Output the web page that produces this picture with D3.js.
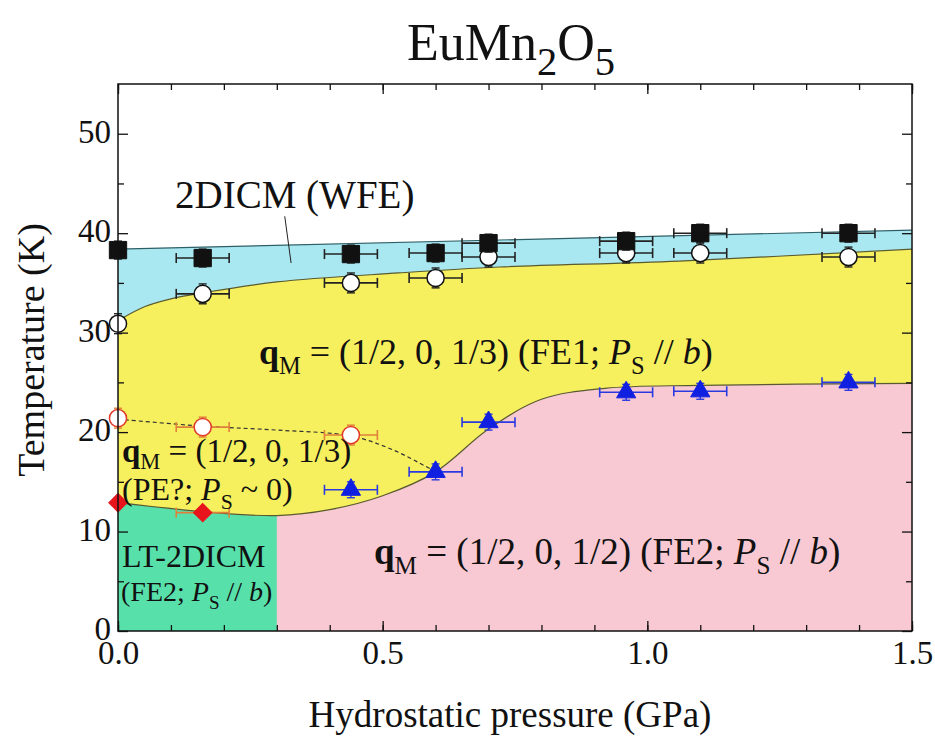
<!DOCTYPE html>
<html>
<head>
<meta charset="utf-8">
<script src="https://cdnjs.cloudflare.com/ajax/libs/d3/7.8.5/d3.min.js"></script>
<style>
  body { margin: 0; background: #fff; }
  svg text { font-family: "Liberation Serif", "Times New Roman", serif; fill: #111; }
</style>
</head>
<body>
<div id="chart"></div>
<script>
// measured points (pressure in GPa, temperature in K)
var tnP = [0, 0.16, 0.44, 0.60, 0.70, 0.96, 1.10, 1.38];
var tnT = [38.3, 37.5, 37.9, 38.0, 39.0, 39.2, 40.0, 40.0];
var tc1P = [0, 0.16, 0.44, 0.60, 0.70, 0.96, 1.10, 1.38];
var tc1T = [30.9, 33.9, 35.0, 35.5, 37.6, 38.0, 38.0, 37.6];
var peP = [0, 0.16, 0.44];
var peT = [21.4, 20.5, 19.7];
var ltP = [0, 0.16];
var ltT = [12.9, 11.9];
var fe2P = [0.44, 0.60, 0.70, 0.96, 1.10, 1.38];
var fe2T = [14.2, 16.0, 21.0, 24.0, 24.1, 25.0];
var pErr = 0.05;

// phase boundaries
var upperLineP = [0, 1.5];
var upperLineT = [38.4, 40.3];
var fe1LineP = [0, 0.05, 0.1, 0.16, 0.3, 0.53, 0.72, 1.06, 1.5];
var fe1LineT = [31.2, 32.6, 33.4, 34.0, 35.1, 36.0, 36.6, 37.2, 38.4];
var fe2LineP = [0, 0.16, 0.3, 0.4, 0.5, 0.6, 0.7, 0.8, 0.92, 1.1, 1.5];
var fe2LineT = [12.9, 12.0, 11.6, 12.2, 13.6, 16.0, 20.3, 23.3, 24.4, 24.7, 24.9];
var dashP = [0, 0.16, 0.3, 0.44, 0.52, 0.6];
var dashT = [21.3, 20.6, 20.2, 19.6, 18.2, 16.0];
var ltBorderP = 0.3;

var xMajor = [0, 0.5, 1.0, 1.5];
var yMajor = [0, 10, 20, 30, 40, 50];

function zip(ps, ts) { return ps.map(function(p, i) { return {p: p, t: ts[i]}; }); }

var W = 935, H = 736;
var margin = {top: 84, right: 23, bottom: 105, left: 118};
var width = W - margin.left - margin.right,
    height = H - margin.top - margin.bottom;

var svg = d3.select("#chart").append("svg")
    .attr("width", W).attr("height", H);
var g = svg.append("g")
    .attr("transform", "translate(" + margin.left + "," + margin.top + ")");

var x = d3.scaleLinear().domain([0, 1.5]).range([0, width]);
var y = d3.scaleLinear().domain([0, 55]).range([height, 0]);

g.append("clipPath").attr("id", "plotclip")
  .append("rect").attr("width", width).attr("height", height);
g.append("clipPath").attr("id", "ltclip")
  .append("rect").attr("width", x(ltBorderP)).attr("height", height);

var smooth = d3.curveCatmullRom.alpha(0.5);
var areaTo0 = d3.area().curve(smooth)
    .x(function(d) { return x(d.p); })
    .y0(height)
    .y1(function(d) { return y(d.t); });
var line = d3.line().curve(smooth)
    .x(function(d) { return x(d.p); })
    .y(function(d) { return y(d.t); });

var regions = g.append("g").attr("clip-path", "url(#plotclip)");
regions.append("path").attr("d", areaTo0(zip(upperLineP, upperLineT))).attr("fill", "#aae8f1");
regions.append("path").attr("d", areaTo0(zip(fe1LineP, fe1LineT))).attr("fill", "#f6ef5e");
regions.append("path").attr("d", areaTo0(zip(fe2LineP, fe2LineT))).attr("fill", "#f8c9d3");
regions.append("path").attr("d", areaTo0(zip(fe2LineP, fe2LineT))).attr("fill", "#58e0ab")
    .attr("clip-path", "url(#ltclip)");

// boundary lines
[[upperLineP, upperLineT, "#2f5f66"], [fe1LineP, fe1LineT, "#5a5a30"], [fe2LineP, fe2LineT, "#5a5a30"]]
  .forEach(function(l) {
    regions.append("path").attr("d", line(zip(l[0], l[1])))
      .attr("fill", "none").attr("stroke", l[2]).attr("stroke-width", 1.2);
  });
regions.append("path").attr("d", line(zip(dashP, dashT)))
  .attr("fill", "none").attr("stroke", "#333").attr("stroke-width", 1.2)
  .attr("stroke-dasharray", "4,3");

// leader line for 2DICM label
g.append("line")
  .attr("x1", x(0.315)).attr("y1", y(41.7))
  .attr("x2", x(0.327)).attr("y2", y(37.0))
  .attr("stroke", "#222").attr("stroke-width", 1);

// error bars + markers
function drawSeries(data, opts) {
  var sg = g.append("g");
  var cap = 5;
  data.forEach(function(d) {
    var cx = x(d.p), cy = y(d.t);
    if (d.p > 0) {
      var x0 = x(d.p - pErr), x1 = x(d.p + pErr);
      sg.append("line").attr("x1", x0).attr("x2", x1).attr("y1", cy).attr("y2", cy)
        .attr("stroke", opts.err).attr("stroke-width", 1.6);
      sg.append("line").attr("x1", x0).attr("x2", x0).attr("y1", cy - cap).attr("y2", cy + cap)
        .attr("stroke", opts.err).attr("stroke-width", 1.6);
      sg.append("line").attr("x1", x1).attr("x2", x1).attr("y1", cy - cap).attr("y2", cy + cap)
        .attr("stroke", opts.err).attr("stroke-width", 1.6);
    }
    var ya = y(d.t + opts.tErr), yb = y(d.t - opts.tErr);
    sg.append("line").attr("x1", cx).attr("x2", cx).attr("y1", ya).attr("y2", yb)
      .attr("stroke", opts.err).attr("stroke-width", 1.4);
    [ya, yb].forEach(function(yy) {
      sg.append("line").attr("x1", cx - 4).attr("x2", cx + 4).attr("y1", yy).attr("y2", yy)
        .attr("stroke", opts.err).attr("stroke-width", 1.4);
    });
  });
  sg.selectAll("path.m").data(data).enter().append("path")
    .attr("class", "m")
    .attr("d", d3.symbol().type(opts.type).size(opts.size))
    .attr("transform", function(d) {
      return "translate(" + x(d.p) + "," + y(d.t) + ")" + (opts.rotate ? " rotate(45)" : "");
    })
    .attr("fill", opts.fill)
    .attr("stroke", opts.stroke)
    .attr("stroke-width", opts.sw);
}

drawSeries(zip(tc1P, tc1T), {type: d3.symbolCircle, size: 230, fill: "#fff", stroke: "#111", sw: 1.5, err: "#222", tErr: 1.0});
drawSeries(zip(tnP, tnT), {type: d3.symbolSquare, size: 300, fill: "#111", stroke: "#111", sw: 1, err: "#222", tErr: 0.9});
drawSeries(zip(peP, peT), {type: d3.symbolCircle, size: 230, fill: "#fff", stroke: "#e23a2a", sw: 1.5, err: "#e0803a", tErr: 1.0});
drawSeries(zip(ltP, ltT), {type: d3.symbolSquare, size: 170, fill: "#e8141c", stroke: "#e8141c", sw: 1, err: "#e0803a", tErr: 0.5, rotate: true});
drawSeries(zip(fe2P, fe2T), {type: d3.symbolTriangle, size: 160, fill: "#1020e0", stroke: "#1020e0", sw: 1, err: "#2a3ae0", tErr: 0.8});

// frame
g.append("rect").attr("width", width).attr("height", height)
  .attr("fill", "none").attr("stroke", "#111").attr("stroke-width", 1.5);

// axes with inward ticks
var fmtX = d3.format(".1f");
function addAxis(axis, tr) {
  var a = g.append("g").attr("transform", tr).call(axis);
  a.select(".domain").remove();
  a.selectAll("line").attr("stroke", "#111").attr("stroke-width", 1.3);
  a.selectAll("text").style("font-size", "33px").attr("fill", "#111")
    .style("font-family", "'Liberation Serif', 'Times New Roman', serif");
  return a;
}
addAxis(d3.axisBottom(x).tickValues(xMajor).tickSize(-10).tickPadding(10).tickFormat(fmtX), "translate(0," + height + ")");
addAxis(d3.axisBottom(x).tickValues(d3.range(0, 1.5001, 0.1)).tickSize(-6).tickFormat(""), "translate(0," + height + ")");
addAxis(d3.axisTop(x).tickValues(xMajor).tickSize(-10).tickFormat(""), "translate(0,0)");
addAxis(d3.axisTop(x).tickValues(d3.range(0, 1.5001, 0.1)).tickSize(-6).tickFormat(""), "translate(0,0)");
addAxis(d3.axisLeft(y).tickValues(yMajor).tickSize(-10).tickPadding(7).tickFormat(d3.format("d")), "translate(0,0)")
  .selectAll("text").attr("dy", "0.26em");
addAxis(d3.axisLeft(y).tickValues(d3.range(5, 55, 10)).tickSize(-6).tickFormat(""), "translate(0,0)");
addAxis(d3.axisRight(y).tickValues(yMajor).tickSize(-10).tickFormat(""), "translate(" + width + ",0)");
addAxis(d3.axisRight(y).tickValues(d3.range(5, 55, 10)).tickSize(-6).tickFormat(""), "translate(" + width + ",0)");

// rich text helper: parts {t, b (bold), i (italic), sub}
function rich(parent, px, py, size, parts, subScale, subShift) {
  var k = subScale || 0.68, sh = subShift || 0.28;
  var t = parent.append("text").attr("x", px).attr("y", py).style("font-size", size + "px");
  var inSub = false;
  parts.forEach(function(p) {
    var s = t.append("tspan").text(p.t);
    if (p.b) s.style("font-weight", "bold");
    if (p.i) s.style("font-style", "italic");
    if (p.sub && !inSub) { s.attr("dy", size * sh).style("font-size", (size * k) + "px"); inSub = true; }
    else if (p.sub) { s.style("font-size", (size * k) + "px"); }
    else if (!p.sub && inSub) { s.attr("dy", -size * sh); inSub = false; }
  });
  return t;
}

rich(svg, 511, 60, 52, [{t: "EuMn"}, {t: "2", sub: true}, {t: "O"}, {t: "5", sub: true}], 0.78)
  .attr("text-anchor", "middle");

rich(svg, 175, 208, 39, [{t: "2DICM (WFE)"}]);
rich(svg, 259, 364, 36, [{t: "q", b: true}, {t: "M", sub: true}, {t: " = (1/2, 0, 1/3) (FE1; "}, {t: "P", i: true}, {t: "S", sub: true}, {t: " // "}, {t: "b", i: true}, {t: ")"}]);
rich(svg, 122, 462, 33, [{t: "q", b: true}, {t: "M", sub: true}, {t: " = (1/2, 0, 1/3)"}], 0.68, 0.2);
rich(svg, 122, 500, 32, [{t: "(PE?; "}, {t: "P", i: true}, {t: "S", sub: true}, {t: " ~ 0)"}]);
rich(svg, 122, 567, 32, [{t: "LT-2DICM"}]);
rich(svg, 121, 601, 28, [{t: "(FE2; "}, {t: "P", i: true}, {t: "S", sub: true}, {t: " // "}, {t: "b", i: true}, {t: ")"}]);
rich(svg, 374, 564, 37, [{t: "q", b: true}, {t: "M", sub: true}, {t: " = (1/2, 0, 1/2) (FE2; "}, {t: "P", i: true}, {t: "S", sub: true}, {t: " // "}, {t: "b", i: true}, {t: ")"}]);

// axis titles
svg.append("text").attr("x", 510).attr("y", 727).attr("text-anchor", "middle")
  .style("font-size", "37px").text("Hydrostatic pressure (GPa)");
svg.append("text").attr("transform", "translate(44,350) rotate(-90)").attr("text-anchor", "middle")
  .style("font-size", "38px").text("Temperature (K)");
</script>
</body>
</html>
